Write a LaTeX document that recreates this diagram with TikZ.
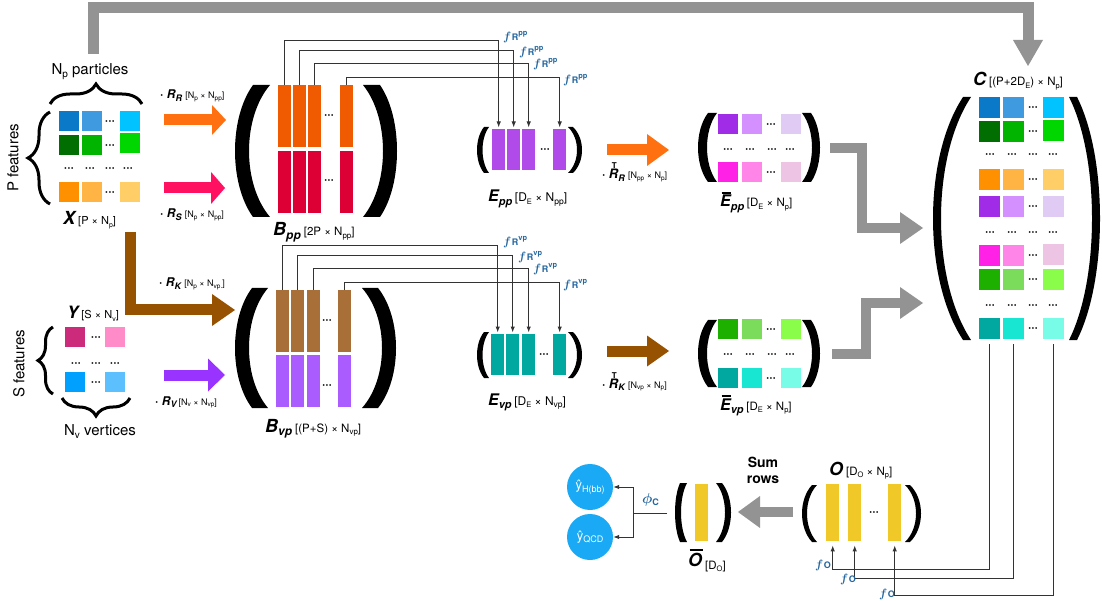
\documentclass[tikz,border=0pt]{standalone}
\usepackage{bm}
\usepackage{fontspec}
\setmainfont{TeX Gyre Heros}
\usetikzlibrary{arrows.meta,decorations.pathreplacing,calc}
\definecolor{gr}{HTML}{939393}
\definecolor{fblue}{HTML}{24679F}
\definecolor{cblue}{HTML}{19A9F5}
\definecolor{ln}{HTML}{333333}
\definecolor{aor}{HTML}{FF7010}
\definecolor{apk}{HTML}{FF1060}
\definecolor{abr}{HTML}{965200}
\definecolor{apu}{HTML}{9933FF}
\definecolor{bor}{HTML}{F05A00}
\definecolor{bred}{HTML}{DC0034}
\definecolor{bbr}{HTML}{A87038}
\definecolor{bpu}{HTML}{AA5CFF}
\definecolor{epu}{HTML}{B04AE8}
\definecolor{oy}{HTML}{F0C828}
\definecolor{bla}{HTML}{0A7AC8}
\definecolor{blb}{HTML}{3F9AE0}
\definecolor{blc}{HTML}{00C3FF}
\definecolor{gna}{HTML}{006E00}
\definecolor{gnb}{HTML}{00B400}
\definecolor{gnc}{HTML}{00D600}
\definecolor{ora}{HTML}{FF9000}
\definecolor{orb}{HTML}{FFB444}
\definecolor{orc}{HTML}{FFCE66}
\definecolor{pua}{HTML}{A02CE8}
\definecolor{pub}{HTML}{D490FF}
\definecolor{puc}{HTML}{DFCBF4}
\definecolor{mga}{HTML}{FF22E6}
\definecolor{mgb}{HTML}{FF86E8}
\definecolor{mgc}{HTML}{EEC4E4}
\definecolor{lga}{HTML}{1EB000}
\definecolor{lgb}{HTML}{7ADC5A}
\definecolor{lgc}{HTML}{8AFC4A}
\definecolor{tla}{HTML}{00A8A0}
\definecolor{tlb}{HTML}{18E6D2}
\definecolor{tlc}{HTML}{78FCE8}
\definecolor{pka}{HTML}{CC2A7A}
\definecolor{pkb}{HTML}{FF8CC8}
\definecolor{bva}{HTML}{00A0FF}
\definecolor{bvb}{HTML}{5CC0FF}
\newcommand{\fs}[1]{\fontsize{#1}{#1}\selectfont}
\newcommand{\bi}[1]{{\bfseries\itshape #1}}
\newcommand{\lo}[2]{\raisebox{-0.2em}{\fs{#1}#2}}
\newcommand{\hi}[2]{\raisebox{0.42em}{\fs{#1}#2}}
\newcommand{\ob}[1]{\setbox0=\hbox{#1}\rlap{\hspace{1.5pt}\raisebox{\dimexpr\ht0+1.5pt\relax}{\rule{\dimexpr\wd0-1pt\relax}{1.8pt}}}\box0}
\newcommand{\fR}[1]{{\color{fblue}\fs{13}$\bm{f}$\hspace{0.5pt}{\fs{9}\bfseries R}\hi{7.5}{\bfseries #1}}}
\newcommand{\fO}{{\color{fblue}\fs{13}$\bm{f}$\hspace{0.5pt}{\fs{9}\bfseries O}}}
\newcommand{\Rt}[1]{\bi{\fs{13}R\llap{\raisebox{10pt}{\upshape\fs{8}T}\kern1.5pt}\lo{9}{#1}}}
\newcounter{dc}
\newcommand{\dts}[2]{\stepcounter{dc}\node[dt] (dot\arabic{dc}) at (#1,#2+3.6) {···};}
\newcommand{\parfill}[6]{%
 \pgfmathsetmacro{\pa}{#1+4/3*(#3-#1)}%
 \pgfmathsetmacro{\pb}{#2+4/3*(#4-#2)}%
 \pgfmathsetmacro{\pya}{#5+0.25*(#6-#5)}%
 \pgfmathsetmacro{\pyb}{#6-0.25*(#6-#5)}%
 \fill (#1,#5) -- (#2,#5) .. controls (\pb,\pya) and (\pb,\pyb) .. (#2,#6) -- (#1,#6) .. controls (\pa,\pyb) and (\pa,\pya) .. cycle;}
\begin{document}
\begin{tikzpicture}[x=1pt,y=-1pt,
 sq/.style={fill=#1, draw=none, inner sep=0pt, minimum width=20pt, minimum height=20pt, anchor=north west},
 csq/.style={fill=#1, draw=none, inner sep=0pt, minimum width=21pt, minimum height=21pt, anchor=north west},
 bar/.style={fill=#1, draw=none, inner sep=0pt, minimum width=13pt, anchor=north west},
 dt/.style={inner sep=0pt, anchor=base, font=\fs{12}\bfseries},
 lab/.style={inner sep=0pt, anchor=base west},
 flab/.style={inner sep=0pt, anchor=base west},
 fat/.style={line width=11pt, draw=#1, line join=miter},
 fline/.style={draw=ln, line width=1pt, -{Latex[length=6pt,width=4.5pt]}},
 brc/.style={decorate, line width=3pt, draw=black},
 circ/.style={circle, fill=cblue, minimum size=46pt, inner sep=0pt, text=white}
]
\useasboundingbox (0,0) rectangle (1102,601);
\fill[white] (0,0) rectangle (1102,601);

% ---------- top gray arrow X -> C
\coordinate (g1s) at (93,54); \coordinate (g1a) at (93,8);
\coordinate (g1b) at (1028,8); \coordinate (g1e) at (1028,66);
\draw[fat=gr, -{Triangle[length=26pt,width=30pt,line width=0pt]}] (g1s) -- (g1a) -- (g1b) -- (g1e);

% ---------- X matrix
\node[sq=bla] (x11) at (59,111) {};
\node[sq=blb] (x12) at (82,111) {};
\node[sq=blc] (x14) at (120,111) {};
\node[sq=gna] (x21) at (59,135) {};
\node[sq=gnb] (x22) at (82,135) {};
\node[sq=gnc] (x24) at (120,133) {};
\node[sq=ora] (x31) at (59,182) {};
\node[sq=orb] (x32) at (82,182) {};
\node[sq=orc] (x34) at (120,182) {};
\dts{110}{121}\dts{110}{145}\dts{110}{192}
\dts{69}{168}\dts{90}{168}\dts{110}{168}\dts{128}{168}
\draw[brc, decoration={brace, amplitude=20pt}] (50,104) -- (142,104);
\draw[brc, decoration={brace, amplitude=22pt}] (50,204) -- (50,112);
\node[inner sep=0pt, anchor=base] (nplab) at (90,75) {\fs{15}N\lo{10}{p} particles};
\node[inner sep=0pt, rotate=90] (pfeat) at (13,158) {\fs{15}P features};
\node[lab] (xlab) at (63,225) {\fs{18}\bi{X}\,\fs{11}[P × N\lo{7}{p}]};

% ---------- Y matrix
\node[sq=pka] (y11) at (65,327) {};
\node[sq=pkb] (y13) at (105,327) {};
\node[sq=bva] (y21) at (65,372) {};
\node[sq=bvb] (y23) at (105,372) {};
\dts{96}{337}\dts{96}{382}
\dts{76}{363}\dts{96}{363}\dts{115}{363}
\draw[brc, decoration={brace, amplitude=15pt}] (53,394) -- (53,327);
\draw[brc, decoration={brace, amplitude=18pt}] (130,398) -- (62,398);
\node[lab] (ylab) at (67,319) {\fs{17}\bi{Y}\,\fs{11}[S × N\lo{7}{v}]};
\node[inner sep=0pt, rotate=90] (sfeat) at (19,364) {\fs{15}S features};
\node[inner sep=0pt, anchor=base] (nvlab) at (100,435) {\fs{15}N\lo{10}{v} vertices};

% ---------- left colored arrows
\draw[fat=aor, -{Triangle[length=14pt,width=30pt,line width=0pt]}] (164,120) -- (226,120);
\draw[fat=apk, -{Triangle[length=14pt,width=32pt,line width=0pt]}] (164,188) -- (225,188);
\draw[fat=abr, -{Triangle[length=23pt,width=32pt,line width=0pt]}] (130,232) -- (130,310) -- (235,310);
\draw[fat=apu, -{Triangle[length=17pt,width=33pt,line width=0pt]}] (164,375) -- (225,375);
\node[lab] (rrlab) at (160,99) {\fs{12}\textbf{·} \bi{R\lo{9}{R}} \fs{9}[N\lo{6.5}{p} × N\lo{6.5}{pp}]};
\node[lab] (rslab) at (160,218) {\fs{12}\textbf{·} \bi{R\lo{9}{S}} \fs{9}[N\lo{6.5}{p} × N\lo{6.5}{pp}]};
\node[lab] (rklab) at (159,287) {\fs{12}\textbf{·} \bi{R\lo{9}{K}} \fs{9}[N\lo{6.5}{p} × N\lo{6.5}{vp.}]};
\node[lab] (rvlab) at (155,405) {\fs{12}\textbf{·} \bi{R\lo{9}{V}}\,\fs{9}[N\lo{6.5}{v} × N\lo{6.5}{vp}]};

% ---------- B_pp
\parfill{253}{270}{235}{249}{85}{217}
\parfill{380}{363}{397}{383}{85}{217}
\node[bar=bor, minimum height=62pt] (bpp1) at (278,85) {};
\node[bar=bor, minimum height=62pt] (bpp2) at (293,85) {};
\node[bar=bor, minimum height=62pt] (bpp3) at (308,85) {};
\node[bar=bor, minimum height=62pt] (bpp4) at (340,85) {};
\node[bar=bred, minimum height=62pt] (bps1) at (278,151) {};
\node[bar=bred, minimum height=62pt] (bps2) at (293,151) {};
\node[bar=bred, minimum height=62pt] (bps3) at (308,151) {};
\node[bar=bred, minimum height=62pt] (bps4) at (340,151) {};
\dts{329}{115}\dts{329}{180}
\node[lab] (bpplab) at (273,236) {\fs{18}\bi{B\lo{12}{pp}}\,\fs{11.5}[2P × N\lo{8}{pp}]};

% ---------- B_vp
\parfill{252}{268}{235}{249}{288}{408}
\parfill{378}{362}{396}{382}{288}{408}
\node[bar=bbr, minimum height=62pt] (bvp1) at (276,290) {};
\node[bar=bbr, minimum height=62pt] (bvp2) at (291,290) {};
\node[bar=bbr, minimum height=62pt] (bvp3) at (307,290) {};
\node[bar=bbr, minimum height=62pt] (bvp4) at (338,290) {};
\node[bar=bpu, minimum height=52pt] (bvs1) at (276,355) {};
\node[bar=bpu, minimum height=52pt] (bvs2) at (291,355) {};
\node[bar=bpu, minimum height=52pt] (bvs3) at (307,355) {};
\node[bar=bpu, minimum height=52pt] (bvs4) at (338,355) {};
\dts{327}{320}\dts{327}{385}
\node[lab] (bvplab) at (265,432) {\fs{18}\bi{B\lo{12}{vp}}\,\fs{11.5}[(P+S) × N\lo{8}{vp}]};

% ---------- E_pp
\parfill{484}{489}{477}{482.5}{127}{173}
\parfill{573}{568}{582}{577}{127}{173}
\node[bar=epu, minimum height=41pt] (epp1) at (492,129) {};
\node[bar=epu, minimum height=41pt] (epp2) at (507,129) {};
\node[bar=epu, minimum height=41pt] (epp3) at (522,129) {};
\node[bar=epu, minimum height=41pt] (epp4) at (553,129) {};
\dts{545}{149}
\node[lab] (epplab) at (488,202) {\fs{16}\bi{E\lo{11}{pp}}\,\fs{12}[D\lo{7.5}{E} × N\lo{8.5}{pp}]};

% ---------- E_vp
\parfill{484}{489}{477}{482.5}{332}{378}
\parfill{573}{568}{582}{577}{332}{378}
\node[bar=tla, minimum height=41pt] (evp1) at (491,334) {};
\node[bar=tla, minimum height=41pt] (evp2) at (506,334) {};
\node[bar=tla, minimum height=41pt] (evp3) at (522,334) {};
\node[bar=tla, minimum height=41pt] (evp4) at (553,334) {};
\dts{544}{354}
\node[lab] (evplab) at (488,405) {\fs{16}\bi{E\lo{11}{vp}}\,\fs{12}[D\lo{7.5}{E} × N\lo{8.5}{vp}]};

% ---------- f_R connectors pp
\coordinate (ya1) at (0,41); \coordinate (ya2) at (0,51);
\coordinate (ya3) at (0,64); \coordinate (ya4) at (0,78);
\draw[fline, shorten >=1.5pt] (bpp1.north) |- (epp1.north |- ya1) -- (epp1.north);
\draw[fline, shorten >=1.5pt] (bpp2.north) |- (epp2.north |- ya2) -- (epp2.north);
\draw[fline, shorten >=1.5pt] (bpp3.north) |- (epp3.north |- ya3) -- (epp3.north);
\draw[fline, shorten >=1.5pt] (bpp4.north) |- (epp4.north |- ya4) -- (epp4.north);
\node[flab] (fpp1) at (503,41) {\fR{pp}};
\node[flab] (fpp2) at (519,56) {\fR{pp}};
\node[flab] (fpp3) at (533,68) {\fR{pp}};
\node[flab] (fpp4) at (563,84) {\fR{pp}};

% ---------- f_R connectors vp
\coordinate (yb1) at (0,246); \coordinate (yb2) at (0,256);
\coordinate (yb3) at (0,269); \coordinate (yb4) at (0,283);
\draw[fline, shorten >=1.5pt] (bvp1.north) |- (evp1.north |- yb1) -- (evp1.north);
\draw[fline, shorten >=1.5pt] (bvp2.north) |- (evp2.north |- yb2) -- (evp2.north);
\draw[fline, shorten >=1.5pt] (bvp3.north) |- (evp3.north |- yb3) -- (evp3.north);
\draw[fline, shorten >=1.5pt] (bvp4.north) |- (evp4.north |- yb4) -- (evp4.north);
\node[flab] (fvp1) at (503,246) {\fR{vp}};
\node[flab] (fvp2) at (518,261) {\fR{vp}};
\node[flab] (fvp3) at (533,273) {\fR{vp}};
\node[flab] (fvp4) at (563,289) {\fR{vp}};

% ---------- R^T arrows
\draw[fat=aor, -{Triangle[length=22pt,width=32pt,line width=0pt]}] (607,150) -- (669,150);
\draw[fat=abr, -{Triangle[length=22pt,width=31pt,line width=0pt]}] (607,351) -- (669,351);
\node[lab] (rrtlab) at (602,179) {\fs{12}\textbf{·} \Rt{R} \fs{9}[N\lo{6.5}{pp} × N\lo{6.5}{p}]};
\node[lab] (rktlab) at (602,388) {\fs{12}\textbf{·} \Rt{K} \fs{9}[N\lo{6.5}{vp} × N\lo{6.5}{p}]};

% ---------- Ebar_pp
\parfill{708}{717}{698}{707}{113}{182}
\parfill{811}{802}{820}{812}{113}{182}
\node[sq=pua] (ep11) at (718,114) {};
\node[sq=pub] (ep12) at (742,114) {};
\node[sq=puc] (ep14) at (781,114) {};
\node[sq=mga] (ep21) at (718,162) {};
\node[sq=mgb] (ep22) at (742,162) {};
\node[sq=mgc] (ep24) at (781,162) {};
\dts{771}{124}\dts{771}{172}
\dts{728}{149}\dts{750}{149}\dts{772}{149}\dts{790}{149}
\node[lab] (ebpplab) at (720,207) {\fs{16}\ob{\bi{E}}\bi{\lo{11}{pp}}\,\fs{11.5}[D\lo{7.5}{E} × N\lo{7.5}{p}]};

% ---------- Ebar_vp
\parfill{708}{717}{698}{707}{320}{387}
\parfill{811}{802}{820}{812}{320}{387}
\node[sq=lga] (ev11) at (718,319) {};
\node[sq=lgb] (ev12) at (742,319) {};
\node[sq=lgc] (ev14) at (781,319) {};
\node[sq=tla] (ev21) at (718,368) {};
\node[sq=tlb] (ev22) at (742,368) {};
\node[sq=tlc] (ev24) at (781,368) {};
\dts{771}{329}\dts{771}{378}
\dts{728}{354}\dts{750}{354}\dts{772}{354}\dts{790}{354}
\node[lab] (ebvplab) at (720,410) {\fs{16}\ob{\bi{E}}\bi{\lo{11}{vp}}\,\fs{11.5}[D\lo{7.5}{E} × N\lo{7.5}{p}]};

% ---------- gray elbows to C
\draw[fat=gr, line width=10pt, -{Triangle[length=23pt,width=32pt,line width=0pt]}] (830,148) -- (862,148) -- (862,228) -- (923,228);
\draw[fat=gr, line width=10pt, -{Triangle[length=23pt,width=32pt,line width=0pt]}] (832,354) -- (866,354) -- (866,303) -- (923,303);

% ---------- C matrix
\parfill{963}{971}{933}{941}{97}{340}
\parfill{1077}{1069}{1100}{1092}{97}{340}
\node[lab] (clab) at (973,86) {\fs{18}\bi{C}\,\fs{11.5}[(P+2D\lo{7.5}{E}) × N\lo{7.5}{p}]};
\node[csq=bla] (c11) at (979,97) {};
\node[csq=blb] (c12) at (1003,97) {};
\node[csq=blc] (c14) at (1043,97) {};
\node[csq=gna] (c21) at (979,121) {};
\node[csq=gnb] (c22) at (1003,121) {};
\node[csq=gnc] (c24) at (1043,120) {};
\node[csq=ora] (c31) at (979,169) {};
\node[csq=orb] (c32) at (1003,169) {};
\node[csq=orc] (c34) at (1043,169) {};
\node[csq=pua] (c41) at (979,196) {};
\node[csq=pub] (c42) at (1003,196) {};
\node[csq=puc] (c44) at (1043,196) {};
\node[csq=mga] (c51) at (979,245) {};
\node[csq=mgb] (c52) at (1003,245) {};
\node[csq=mgc] (c54) at (1043,244) {};
\node[csq=lga] (c61) at (979,269) {};
\node[csq=lgb] (c62) at (1003,269) {};
\node[csq=lgc] (c64) at (1043,269) {};
\node[csq=tla] (c71) at (979,318) {};
\node[csq=tlb] (c72) at (1003,318) {};
\node[csq=tlc] (c74) at (1043,318) {};
\dts{1033}{107}\dts{1033}{131}\dts{1033}{179}\dts{1033}{206}
\dts{1033}{255}\dts{1033}{279}\dts{1033}{328}
\dts{990}{154}\dts{1012}{154}\dts{1033}{154}\dts{1053}{154}
\dts{990}{232}\dts{1012}{232}\dts{1033}{232}\dts{1053}{232}
\dts{990}{305}\dts{1012}{305}\dts{1033}{305}\dts{1053}{305}

% ---------- O matrix
\parfill{812}{817}{802}{807}{485}{542}
\parfill{910}{905}{921}{916}{485}{542}
\node[bar=oy, minimum height=57pt] (o1) at (826,484) {};
\node[bar=oy, minimum height=57pt] (o2) at (848,484) {};
\node[bar=oy, minimum height=57pt] (o3) at (888,484) {};
\dts{874}{512}
\node[lab] (olab) at (829,475) {\fs{18}\bi{O}\,\fs{11.5}[D\lo{7.5}{O} × N\lo{7.5}{p}]};

% ---------- f_O connectors
\coordinate (yo1) at (0,569); \coordinate (yo2) at (0,578); \coordinate (yo3) at (0,595);
\draw[fline, shorten <=5pt, shorten >=4pt] (c71.south) |- (o1.south |- yo1) -- (o1.south);
\draw[fline, shorten <=5pt, shorten >=4pt] (c72.south) |- (o2.south |- yo2) -- (o2.south);
\draw[fline, shorten <=5pt, shorten >=4pt] (c74.south) |- (o3.south |- yo3) -- (o3.south);
\node[flab] (fo1) at (815,568) {\fO};
\node[flab] (fo2) at (840,582) {\fO};
\node[flab] (fo3) at (879,597) {\fO};

% ---------- Sum rows arrow
\coordinate (sra) at (793,512); \coordinate (srb) at (738,512);
\draw[fat=gr, line width=10pt, -{Triangle[length=22pt,width=32pt,line width=0pt]}] (sra) -- (srb);
\node[align=center, font=\fontsize{14}{16}\selectfont\bfseries, inner sep=0pt] (sumrows) at (763,470) {Sum\\rows};

% ---------- Obar
\parfill{680}{687}{675}{681}{483}{542}
\parfill{722}{716}{731}{725}{483}{542}
\node[bar=oy, minimum height=57pt] (ob1) at (695,484) {};
\node[lab] (oblab) at (688,566) {\fs{18}\ob{\bi{O}}\,\raisebox{-3pt}{\fs{11.5}[D\lo{7.5}{O}]}};

% ---------- classifier
\node[circ] (yh) at (590,487) {\fs{13}ŷ\lo{9}{H(bb)}};
\node[circ] (yq) at (590,537) {\fs{13}ŷ\lo{9}{QCD}};
\coordinate (obw) at (667,513); \coordinate (phij) at (633,513);
\draw[draw=ln, line width=1pt] (obw) -- (phij);
\draw[fline] (phij) |- (yh.east);
\draw[fline] (phij) |- (yq.east);
\node[flab] (philab) at (642,503) {\color{fblue}\fs{14}$\bm{\phi}$\lo{9}{\bfseries C}};
\end{tikzpicture}
\end{document}
